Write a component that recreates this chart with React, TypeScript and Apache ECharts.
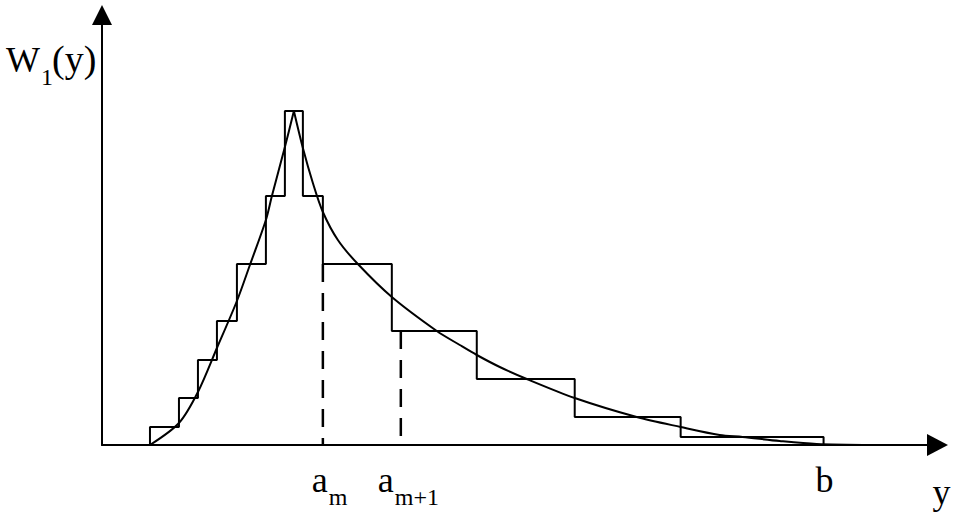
import React, { useEffect, useRef } from 'react';
import * as echarts from 'echarts';

// Histogram (step) approximation: bin edges and bin heights
const stepEdges = [48, 77, 96, 115, 135, 164, 183, 201, 221, 290, 375, 473, 579, 722];
const stepHeights = [18, 47, 85, 124, 181, 249, 334, 249, 181, 114, 66, 28, 8];

// Density curve W1(y): rising branch and falling branch
const riseX = [48, 77, 96, 115, 135, 148, 164, 170, 183, 192];
const riseY = [0, 22, 53, 97, 144, 180, 225, 249, 298, 334];
const fallX = [192, 201, 211, 221, 236, 256, 290, 335, 358, 375, 398, 425, 473, 535, 579, 618, 641, 678, 715, 771];
const fallY = [334, 297, 262, 233, 205, 181, 148, 114, 100, 90, 78, 66, 47, 28, 18, 10, 8, 4, 1, 0];

// Dashed guide lines at a_m and a_{m+1}
const dashX = [221, 299];
const dashTop = [181, 114];

// Axis labels under x axis
const labelX = [221, 299, 722];
const labelMain = ['a', 'a', 'b'];
const labelSub = ['m', 'm+1', ''];
const labelMainDx = [-11, -23, -8];

const X_MAX = 836;
const Y_MAX = 430;
const FONT = 'Liberation Serif';

export default function App() {
  const ref = useRef<HTMLDivElement>(null);

  useEffect(() => {
    if (!ref.current) return;
    const chart = echarts.init(ref.current, undefined, { renderer: 'svg' });

    const stepData: number[][] = [[stepEdges[0], 0]];
    stepHeights.forEach((h, i) => stepData.push([stepEdges[i], h]));
    stepData.push([stepEdges[stepEdges.length - 1], 0]);

    const riseData = riseX.map((x, i) => [x, riseY[i]]);
    const fallData = fallX.map((x, i) => [x, fallY[i]]);

    const axisCommon = {
      type: 'value' as const,
      min: 0,
      axisTick: { show: false },
      axisLabel: { show: false },
      splitLine: { show: false },
    };

    const black = '#000';

    chart.setOption({
      animation: false,
      backgroundColor: '#fff',
      grid: { left: 102, right: 18.5, top: 15, bottom: 78, containLabel: false },
      xAxis: {
        ...axisCommon,
        max: X_MAX,
        axisLine: {
          show: true,
          onZero: false,
          symbol: ['none', 'triangle'],
          symbolSize: [22, 21],
          lineStyle: { color: black, width: 2 },
        },
      },
      yAxis: {
        ...axisCommon,
        max: Y_MAX,
        axisLine: {
          show: true,
          onZero: false,
          symbol: ['none', 'triangle'],
          symbolSize: [20, 20],
          lineStyle: { color: black, width: 2 },
        },
      },
      series: [
        {
          name: 'histogram',
          type: 'line',
          step: 'end',
          data: stepData,
          symbol: 'none',
          clip: false,
          lineStyle: { color: black, width: 2 },
        },
        {
          name: 'rise',
          type: 'line',
          smooth: 0.3,
          data: riseData,
          symbol: 'none',
          clip: false,
          lineStyle: { color: black, width: 2 },
        },
        {
          name: 'fall',
          type: 'line',
          smooth: 0.3,
          data: fallData,
          symbol: 'none',
          clip: false,
          lineStyle: { color: black, width: 2 },
        },
        ...dashX.map((x, i) => ({
          name: 'dash' + i,
          type: 'line',
          data: [
            [x, dashTop[i]],
            [x, 0],
          ],
          symbol: 'none',
          clip: false,
          lineStyle: { color: black, width: 2.5, type: [18, 11] },
        })),
      ],
    });

    const px = (x: number, y: number) =>
      chart.convertToPixel({ gridIndex: 0 }, [x, y]) as number[];

    const txt = (text: string, x: number, baseline: number, size: number) => ({
      type: 'text',
      x,
      y: baseline - 0.34 * size,
      silent: true,
      style: {
        text,
        fill: black,
        fontSize: size,
        fontFamily: FONT,
        fontWeight: 'normal',
        align: 'left',
        verticalAlign: 'middle',
        textAlign: 'left',
        textVerticalAlign: 'middle',
      },
    });

    const origin = px(0, 0);
    const yTop = px(0, Y_MAX);
    const xEnd = px(X_MAX, 0);

    const graphics: any[] = [];
    labelX.forEach((x, i) => {
      const p = px(x, 0);
      const left = p[0] + labelMainDx[i];
      graphics.push(txt(labelMain[i], left, origin[1] + 47, 36));
      if (labelSub[i]) graphics.push(txt(labelSub[i], left + 17, origin[1] + 60, 24));
    });
    // W1(y) label at top-left of y axis
    graphics.push(txt('W', yTop[0] - 96, yTop[1] + 57, 36));
    graphics.push(txt('1', yTop[0] - 61, yTop[1] + 70, 24));
    graphics.push(txt('(y)', yTop[0] - 50, yTop[1] + 57, 38));
    // y label under arrow end
    graphics.push(txt('y', xEnd[0] - 5, origin[1] + 59, 36));

    chart.setOption({ graphic: graphics });

    return () => chart.dispose();
  }, []);

  return (
    <div
      ref={ref}
      style={{ position: 'fixed', left: 0, top: 0, width: 956, height: 523, background: '#fff' }}
    />
  );
}
